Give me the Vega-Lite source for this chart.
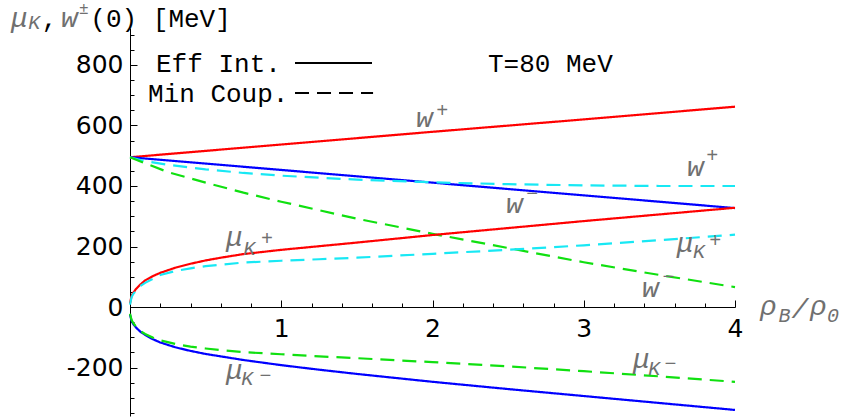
{
  "$schema": "https://vega.github.io/schema/vega-lite/v6.json",
  "width": 605,
  "height": 388,
  "autosize": "none",
  "padding": {"left": 130, "top": 28, "right": 108, "bottom": 2},
  "background": "white",
  "config": {"view": {"stroke": null}},
  "datasets": {
    "curves": [
      {"c": "wp_eff", "m": "Eff Int.", "x": 0, "y": 495},
      {"c": "wp_eff", "m": "Eff Int.", "x": 1, "y": 537},
      {"c": "wp_eff", "m": "Eff Int.", "x": 2, "y": 579},
      {"c": "wp_eff", "m": "Eff Int.", "x": 3, "y": 620},
      {"c": "wp_eff", "m": "Eff Int.", "x": 4, "y": 662},

      {"c": "wm_eff", "m": "Eff Int.", "x": 0, "y": 495},
      {"c": "wm_eff", "m": "Eff Int.", "x": 1, "y": 453},
      {"c": "wm_eff", "m": "Eff Int.", "x": 2, "y": 411},
      {"c": "wm_eff", "m": "Eff Int.", "x": 3, "y": 369},
      {"c": "wm_eff", "m": "Eff Int.", "x": 4, "y": 327},

      {"c": "wp_min", "m": "Min Coup.", "x": 0, "y": 495},
      {"c": "wp_min", "m": "Min Coup.", "x": 0.1, "y": 482},
      {"c": "wp_min", "m": "Min Coup.", "x": 0.25, "y": 470},
      {"c": "wp_min", "m": "Min Coup.", "x": 0.5, "y": 455},
      {"c": "wp_min", "m": "Min Coup.", "x": 0.75, "y": 443},
      {"c": "wp_min", "m": "Min Coup.", "x": 1, "y": 434},
      {"c": "wp_min", "m": "Min Coup.", "x": 1.5, "y": 421},
      {"c": "wp_min", "m": "Min Coup.", "x": 2, "y": 412},
      {"c": "wp_min", "m": "Min Coup.", "x": 2.5, "y": 406},
      {"c": "wp_min", "m": "Min Coup.", "x": 3, "y": 402},
      {"c": "wp_min", "m": "Min Coup.", "x": 3.5, "y": 400},
      {"c": "wp_min", "m": "Min Coup.", "x": 4, "y": 400},

      {"c": "wm_min", "m": "Min Coup.", "x": 0, "y": 495},
      {"c": "wm_min", "m": "Min Coup.", "x": 0.1, "y": 475},
      {"c": "wm_min", "m": "Min Coup.", "x": 0.25, "y": 446},
      {"c": "wm_min", "m": "Min Coup.", "x": 0.5, "y": 411},
      {"c": "wm_min", "m": "Min Coup.", "x": 0.75, "y": 378},
      {"c": "wm_min", "m": "Min Coup.", "x": 1, "y": 348},
      {"c": "wm_min", "m": "Min Coup.", "x": 1.5, "y": 292},
      {"c": "wm_min", "m": "Min Coup.", "x": 2, "y": 242},
      {"c": "wm_min", "m": "Min Coup.", "x": 2.5, "y": 195},
      {"c": "wm_min", "m": "Min Coup.", "x": 3, "y": 148},
      {"c": "wm_min", "m": "Min Coup.", "x": 3.5, "y": 106},
      {"c": "wm_min", "m": "Min Coup.", "x": 4, "y": 66},

      {"c": "mp_eff", "m": "Eff Int.", "x": 0, "y": 12},
      {"c": "mp_eff", "m": "Eff Int.", "x": 0.01, "y": 36},
      {"c": "mp_eff", "m": "Eff Int.", "x": 0.02, "y": 46},
      {"c": "mp_eff", "m": "Eff Int.", "x": 0.04, "y": 60},
      {"c": "mp_eff", "m": "Eff Int.", "x": 0.07, "y": 75},
      {"c": "mp_eff", "m": "Eff Int.", "x": 0.1, "y": 88},
      {"c": "mp_eff", "m": "Eff Int.", "x": 0.15, "y": 102},
      {"c": "mp_eff", "m": "Eff Int.", "x": 0.2, "y": 113},
      {"c": "mp_eff", "m": "Eff Int.", "x": 0.3, "y": 130},
      {"c": "mp_eff", "m": "Eff Int.", "x": 0.4, "y": 143},
      {"c": "mp_eff", "m": "Eff Int.", "x": 0.5, "y": 154},
      {"c": "mp_eff", "m": "Eff Int.", "x": 0.6, "y": 163},
      {"c": "mp_eff", "m": "Eff Int.", "x": 0.75, "y": 175},
      {"c": "mp_eff", "m": "Eff Int.", "x": 1, "y": 189},
      {"c": "mp_eff", "m": "Eff Int.", "x": 1.25, "y": 201},
      {"c": "mp_eff", "m": "Eff Int.", "x": 1.5, "y": 213},
      {"c": "mp_eff", "m": "Eff Int.", "x": 2, "y": 238},
      {"c": "mp_eff", "m": "Eff Int.", "x": 2.5, "y": 261},
      {"c": "mp_eff", "m": "Eff Int.", "x": 3, "y": 284},
      {"c": "mp_eff", "m": "Eff Int.", "x": 3.5, "y": 306},
      {"c": "mp_eff", "m": "Eff Int.", "x": 4, "y": 328},

      {"c": "mp_min", "m": "Min Coup.", "x": 0, "y": 8},
      {"c": "mp_min", "m": "Min Coup.", "x": 0.01, "y": 32},
      {"c": "mp_min", "m": "Min Coup.", "x": 0.02, "y": 42},
      {"c": "mp_min", "m": "Min Coup.", "x": 0.04, "y": 55},
      {"c": "mp_min", "m": "Min Coup.", "x": 0.07, "y": 70},
      {"c": "mp_min", "m": "Min Coup.", "x": 0.1, "y": 80},
      {"c": "mp_min", "m": "Min Coup.", "x": 0.15, "y": 93},
      {"c": "mp_min", "m": "Min Coup.", "x": 0.2, "y": 106},
      {"c": "mp_min", "m": "Min Coup.", "x": 0.3, "y": 119},
      {"c": "mp_min", "m": "Min Coup.", "x": 0.4, "y": 128},
      {"c": "mp_min", "m": "Min Coup.", "x": 0.5, "y": 135},
      {"c": "mp_min", "m": "Min Coup.", "x": 0.6, "y": 140},
      {"c": "mp_min", "m": "Min Coup.", "x": 0.75, "y": 147},
      {"c": "mp_min", "m": "Min Coup.", "x": 1, "y": 153},
      {"c": "mp_min", "m": "Min Coup.", "x": 1.25, "y": 158},
      {"c": "mp_min", "m": "Min Coup.", "x": 1.5, "y": 163},
      {"c": "mp_min", "m": "Min Coup.", "x": 2, "y": 176},
      {"c": "mp_min", "m": "Min Coup.", "x": 2.5, "y": 189},
      {"c": "mp_min", "m": "Min Coup.", "x": 3, "y": 204},
      {"c": "mp_min", "m": "Min Coup.", "x": 3.5, "y": 221},
      {"c": "mp_min", "m": "Min Coup.", "x": 4, "y": 239},

      {"c": "mm_eff", "m": "Eff Int.", "x": 0, "y": -25},
      {"c": "mm_eff", "m": "Eff Int.", "x": 0.01, "y": -45},
      {"c": "mm_eff", "m": "Eff Int.", "x": 0.02, "y": -55},
      {"c": "mm_eff", "m": "Eff Int.", "x": 0.04, "y": -68},
      {"c": "mm_eff", "m": "Eff Int.", "x": 0.07, "y": -82},
      {"c": "mm_eff", "m": "Eff Int.", "x": 0.1, "y": -92},
      {"c": "mm_eff", "m": "Eff Int.", "x": 0.15, "y": -106},
      {"c": "mm_eff", "m": "Eff Int.", "x": 0.2, "y": -117},
      {"c": "mm_eff", "m": "Eff Int.", "x": 0.3, "y": -133},
      {"c": "mm_eff", "m": "Eff Int.", "x": 0.4, "y": -145},
      {"c": "mm_eff", "m": "Eff Int.", "x": 0.5, "y": -155},
      {"c": "mm_eff", "m": "Eff Int.", "x": 0.6, "y": -163},
      {"c": "mm_eff", "m": "Eff Int.", "x": 0.75, "y": -175},
      {"c": "mm_eff", "m": "Eff Int.", "x": 1, "y": -192},
      {"c": "mm_eff", "m": "Eff Int.", "x": 1.25, "y": -207},
      {"c": "mm_eff", "m": "Eff Int.", "x": 1.5, "y": -221},
      {"c": "mm_eff", "m": "Eff Int.", "x": 2, "y": -247},
      {"c": "mm_eff", "m": "Eff Int.", "x": 2.5, "y": -271},
      {"c": "mm_eff", "m": "Eff Int.", "x": 3, "y": -294},
      {"c": "mm_eff", "m": "Eff Int.", "x": 3.5, "y": -317},
      {"c": "mm_eff", "m": "Eff Int.", "x": 4, "y": -340},

      {"c": "mm_min", "m": "Min Coup.", "x": 0, "y": -22},
      {"c": "mm_min", "m": "Min Coup.", "x": 0.01, "y": -42},
      {"c": "mm_min", "m": "Min Coup.", "x": 0.02, "y": -52},
      {"c": "mm_min", "m": "Min Coup.", "x": 0.04, "y": -65},
      {"c": "mm_min", "m": "Min Coup.", "x": 0.07, "y": -80},
      {"c": "mm_min", "m": "Min Coup.", "x": 0.1, "y": -89},
      {"c": "mm_min", "m": "Min Coup.", "x": 0.15, "y": -101},
      {"c": "mm_min", "m": "Min Coup.", "x": 0.2, "y": -110},
      {"c": "mm_min", "m": "Min Coup.", "x": 0.3, "y": -122},
      {"c": "mm_min", "m": "Min Coup.", "x": 0.4, "y": -131},
      {"c": "mm_min", "m": "Min Coup.", "x": 0.5, "y": -137},
      {"c": "mm_min", "m": "Min Coup.", "x": 0.6, "y": -142},
      {"c": "mm_min", "m": "Min Coup.", "x": 0.75, "y": -149},
      {"c": "mm_min", "m": "Min Coup.", "x": 1, "y": -156},
      {"c": "mm_min", "m": "Min Coup.", "x": 1.25, "y": -163},
      {"c": "mm_min", "m": "Min Coup.", "x": 1.5, "y": -169},
      {"c": "mm_min", "m": "Min Coup.", "x": 2, "y": -182},
      {"c": "mm_min", "m": "Min Coup.", "x": 2.5, "y": -196},
      {"c": "mm_min", "m": "Min Coup.", "x": 3, "y": -212},
      {"c": "mm_min", "m": "Min Coup.", "x": 3.5, "y": -229},
      {"c": "mm_min", "m": "Min Coup.", "x": 4, "y": -247}
    ],
    "legend": [
      {"m": "Eff Int.", "x": 1.091, "x2": 1.6, "y": 806},
      {"m": "Min Coup.", "x": 1.091, "x2": 1.607, "y": 707}
    ],
    "texts": [
      {"r": "g", "t": "μ", "x": -0.787, "y": 925},
      {"r": "g", "t": "w", "x": -0.456, "y": 925},
      {"r": "g", "t": "w", "x": 1.891, "y": 595},
      {"r": "g", "t": "w", "x": 3.683, "y": 433},
      {"r": "g", "t": "w", "x": 2.486, "y": 311},
      {"r": "g", "t": "w", "x": 3.385, "y": 33},
      {"r": "g", "t": "μ", "x": 0.635, "y": 202},
      {"r": "g", "t": "μ", "x": 3.615, "y": 182},
      {"r": "g", "t": "μ", "x": 0.635, "y": -238},
      {"r": "g", "t": "μ", "x": 3.326, "y": -202},
      {"r": "g", "t": "ρ", "x": 4.165, "y": -26},
      {"r": "g", "t": "/", "x": 4.374, "y": -36},
      {"r": "g", "t": "ρ", "x": 4.496, "y": -26},
      {"r": "s", "t": "K", "x": -0.672, "y": 918},
      {"r": "s", "t": "+", "x": 2.025, "y": 628},
      {"r": "s", "t": "+", "x": 3.81, "y": 479},
      {"r": "s", "t": "−", "x": 2.62, "y": 353},
      {"r": "s", "t": "−", "x": 3.52, "y": 78},
      {"r": "s", "t": "K", "x": 0.75, "y": 172},
      {"r": "s", "t": "+", "x": 0.866, "y": 205},
      {"r": "s", "t": "K", "x": 3.722, "y": 162},
      {"r": "s", "t": "+", "x": 3.83, "y": 198},
      {"r": "s", "t": "K", "x": 0.736, "y": -258},
      {"r": "s", "t": "−", "x": 0.856, "y": -249},
      {"r": "s", "t": "K", "x": 3.427, "y": -225},
      {"r": "s", "t": "−", "x": 3.534, "y": -209},
      {"r": "s", "t": "B", "x": 4.288, "y": -50},
      {"r": "s", "t": "0", "x": 4.608, "y": -50},
      {"r": "p", "t": "±", "x": -0.337, "y": 968},
      {"r": "k", "t": ",", "x": -0.584, "y": 925},
      {"r": "k", "t": "(0) [MeV]", "x": -0.262, "y": 925},
      {"r": "k", "t": "Eff Int.", "x": 0.172, "y": 777},
      {"r": "k", "t": "Min Coup.", "x": 0.119, "y": 677},
      {"r": "k", "t": "T=80 MeV", "x": 2.367, "y": 777}
    ]
  },
  "layer": [
    {
      "data": {"name": "curves"},
      "mark": {"type": "line", "strokeWidth": 2.2, "clip": false},
      "encoding": {
        "x": {
          "field": "x", "type": "quantitative",
          "scale": {"domain": [0, 4], "nice": false, "zero": false},
          "axis": {
            "orient": "bottom", "offset": -109, "title": null, "grid": false,
            "labels": false, "tickSize": -4, "tickWidth": 1, "tickColor": "black",
            "domainColor": "black", "domainWidth": 1,
            "values": [0.2, 0.4, 0.6, 0.8, 1.2, 1.4, 1.6, 1.8, 2.2, 2.4, 2.6, 2.8, 3.2, 3.4, 3.6, 3.8]
          }
        },
        "y": {
          "field": "y", "type": "quantitative",
          "scale": {"domain": [-360, 922], "nice": false, "zero": false},
          "axis": {
            "orient": "left", "title": null, "grid": false,
            "labels": false, "tickSize": -4, "tickWidth": 1, "tickColor": "black",
            "domainColor": "black", "domainWidth": 1,
            "values": [-350, -300, -250, -150, -100, -50, 50, 100, 150, 250, 300, 350, 450, 500, 550, 650, 700, 750, 850, 900]
          }
        },
        "detail": {"field": "c"},
        "color": {
          "field": "c", "type": "nominal", "legend": null,
          "scale": {
            "domain": ["wp_eff", "mp_eff", "wm_eff", "mm_eff", "wp_min", "mp_min", "wm_min", "mm_min"],
            "range": ["#ff0000", "#ff0000", "#0000ff", "#0000ff", "#18e8f4", "#18e8f4", "#10e010", "#10e010"]
          }
        },
        "strokeDash": {
          "field": "m", "type": "nominal", "legend": null,
          "scale": {"domain": ["Eff Int.", "Min Coup."], "range": [[1, 0], [14, 8]]}
        }
      }
    },
    {
      "data": {"name": "legend"},
      "mark": {"type": "rule", "color": "black", "strokeWidth": 2},
      "encoding": {
        "x": {
          "field": "x", "type": "quantitative",
          "axis": {
            "orient": "bottom", "offset": -109, "title": null, "grid": false,
            "labels": false, "domain": false, "tickSize": -7, "tickWidth": 1, "tickColor": "black",
            "values": [1, 2, 3, 4]
          }
        },
        "x2": {"field": "x2"},
        "y": {
          "field": "y", "type": "quantitative",
          "axis": {
            "orient": "left", "title": null, "grid": false,
            "labels": false, "domain": false, "tickSize": -7, "tickWidth": 1, "tickColor": "black",
            "values": [-200, 0, 200, 400, 600, 800]
          }
        },
        "strokeDash": {"field": "m", "type": "nominal", "legend": null}
      }
    },
    {
      "data": {"name": "texts"},
      "transform": [{"filter": "datum.r === 'k'"}],
      "mark": {"type": "text", "align": "left", "baseline": "alphabetic", "font": "Liberation Mono", "fontSize": 26, "color": "black"},
      "encoding": {
        "x": {
          "field": "x", "type": "quantitative",
          "axis": {
            "orient": "bottom", "offset": -109, "title": null, "grid": false,
            "ticks": false, "domain": false, "labelFlush": false,
            "labelFont": "DejaVu Sans", "labelFontSize": 25, "labelColor": "black", "labelPadding": 9,
            "values": [1, 2, 3, 4]
          }
        },
        "y": {
          "field": "y", "type": "quantitative",
          "axis": {
            "orient": "left", "title": null, "grid": false,
            "ticks": false, "domain": false,
            "labelFont": "DejaVu Sans", "labelFontSize": 25, "labelColor": "black", "labelPadding": 7,
            "labelExpr": "'' + datum.value",
            "values": [-200, 0, 200, 400, 600, 800]
          }
        },
        "text": {"field": "t"}
      }
    },
    {
      "data": {"name": "texts"},
      "transform": [{"filter": "datum.r === 'g'"}],
      "mark": {"type": "text", "align": "left", "baseline": "alphabetic", "font": "Liberation Mono", "fontStyle": "italic", "fontSize": 28, "color": "#707070"},
      "encoding": {
        "x": {"field": "x", "type": "quantitative", "axis": null},
        "y": {"field": "y", "type": "quantitative", "axis": null},
        "text": {"field": "t"}
      }
    },
    {
      "data": {"name": "texts"},
      "transform": [{"filter": "datum.r === 's'"}],
      "mark": {"type": "text", "align": "left", "baseline": "alphabetic", "font": "Liberation Mono", "fontStyle": "italic", "fontSize": 20, "color": "#707070"},
      "encoding": {
        "x": {"field": "x", "type": "quantitative", "axis": null},
        "y": {"field": "y", "type": "quantitative", "axis": null},
        "text": {"field": "t"}
      }
    },
    {
      "data": {"name": "texts"},
      "transform": [{"filter": "datum.r === 'p'"}],
      "mark": {"type": "text", "align": "left", "baseline": "alphabetic", "font": "Liberation Mono", "fontSize": 16, "color": "#707070"},
      "encoding": {
        "x": {"field": "x", "type": "quantitative", "axis": null},
        "y": {"field": "y", "type": "quantitative", "axis": null},
        "text": {"field": "t"}
      }
    }
  ],
  "resolve": {"axis": {"x": "independent", "y": "independent"}}
}
